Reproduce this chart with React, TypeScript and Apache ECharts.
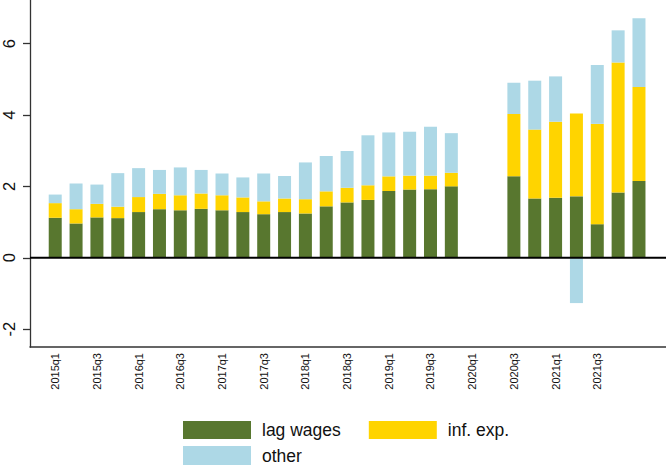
import React, { useEffect, useRef } from "react";
import * as echarts from "echarts";

const categories = [
  "2015q1", "2015q2", "2015q3", "2015q4",
  "2016q1", "2016q2", "2016q3", "2016q4",
  "2017q1", "2017q2", "2017q3", "2017q4",
  "2018q1", "2018q2", "2018q3", "2018q4",
  "2019q1", "2019q2", "2019q3", "2019q4",
  "2020q1", "2020q2", "2020q3", "2020q4",
  "2021q1", "2021q2", "2021q3", "2021q4",
  "2022q1",
];

const tickLabels = [
  "2015q1", "2015q3", "2016q1", "2016q3", "2017q1", "2017q3", "2018q1",
  "2018q3", "2019q1", "2019q3", "2020q1", "2020q3", "2021q1", "2021q3",
];

const yTickValues = [-2, 0, 2, 4, 6];

const lagWages = [
  1.12, 0.96, 1.13, 1.11, 1.28, 1.36, 1.33, 1.37, 1.33, 1.28,
  1.22, 1.28, 1.24, 1.44, 1.55, 1.62, 1.87, 1.91, 1.92, 2.0,
  null, null, 2.28, 1.66, 1.68, 1.72, 0.94, 1.83, 2.15,
];

const infExp = [
  0.41, 0.4, 0.38, 0.32, 0.42, 0.43, 0.42, 0.43, 0.42, 0.41,
  0.36, 0.38, 0.4, 0.42, 0.41, 0.41, 0.41, 0.39, 0.38, 0.38,
  null, null, 1.75, 1.93, 2.13, 2.32, 2.81, 3.64, 2.63,
];

const other = [
  0.24, 0.72, 0.54, 0.94, 0.81, 0.67, 0.78, 0.66, 0.61, 0.56,
  0.78, 0.63, 1.03, 0.99, 1.03, 1.4, 1.23, 1.23, 1.37, 1.11,
  null, null, 0.87, 1.37, 1.27, -1.27, 1.65, 0.9, 1.93,
];

const zeroLine = [
  [0, 0],
  [1, 0],
];

const FONT = "'Liberation Sans', Arial, Helvetica, sans-serif";
const GREEN = "#58772f";
const YELLOW = "#ffd400";
const BLUE = "#add8e6";
const Y_MIN = -2.5;
const Y_MAX = 7.22;

export default function App() {
  const ref = useRef<HTMLDivElement>(null);

  useEffect(() => {
    document.body.style.margin = "0";
    if (!ref.current) return;
    const chart = echarts.init(ref.current, undefined, { renderer: "svg" });
    const legendText = {
      fontFamily: FONT,
      fontSize: 17.5,
      color: "#111",
      padding: [0, 0, 0, 6],
    };
    const option: any = {
      animation: false,
      backgroundColor: "#ffffff",
      grid: [
        { left: 29, right: 0, top: 0, bottom: 118 },
        { left: 44.8, right: 16.6, top: 0, bottom: 118 },
      ],
      legend: [
        {
          left: 183,
          top: 421,
          padding: 0,
          orient: "horizontal",
          icon: "rect",
          itemWidth: 68,
          itemHeight: 18,
          itemGap: 28,
          data: ["lag wages", "inf. exp."],
          textStyle: legendText,
        },
        {
          left: 183,
          top: 446,
          padding: 0,
          orient: "horizontal",
          icon: "rect",
          itemWidth: 68,
          itemHeight: 19,
          data: ["other"],
          textStyle: legendText,
        },
      ],
      xAxis: [
        {
          gridIndex: 0,
          type: "value",
          min: 0,
          max: 1,
          axisLine: { onZero: false, lineStyle: { color: "#333", width: 1.5 } },
          axisTick: { show: false },
          axisLabel: { show: false },
          splitLine: { show: false },
        },
        {
          gridIndex: 1,
          type: "category",
          data: categories,
          boundaryGap: true,
          axisLine: { show: false },
          axisTick: { show: false },
          splitLine: { show: false },
          axisLabel: {
            interval: 0,
            rotate: 90,
            margin: 6,
            fontFamily: FONT,
            fontSize: 11,
            color: "#111",
            formatter: (v: string) => (tickLabels.includes(v) ? v : ""),
          },
        },
      ],
      yAxis: [
        {
          gridIndex: 0,
          type: "value",
          min: Y_MIN,
          max: Y_MAX,
          axisLine: { show: true, lineStyle: { color: "#333", width: 1.3 } },
          axisTick: {
            show: true,
            length: 7,
            customValues: yTickValues,
            lineStyle: { color: "#333", width: 1.3 },
          },
          axisLabel: {
            customValues: yTickValues,
            rotate: 90,
            margin: 13,
            fontFamily: FONT,
            fontSize: 16.5,
            color: "#111",
          },
          splitLine: { show: false },
        },
        {
          gridIndex: 1,
          type: "value",
          min: Y_MIN,
          max: Y_MAX,
          show: false,
          splitLine: { show: false },
        },
      ],
      series: [
        {
          name: "lag wages",
          type: "bar",
          stack: "total",
          xAxisIndex: 1,
          yAxisIndex: 1,
          barWidth: 13,
          itemStyle: { color: GREEN },
          data: lagWages,
        },
        {
          name: "inf. exp.",
          type: "bar",
          stack: "total",
          xAxisIndex: 1,
          yAxisIndex: 1,
          barWidth: 13,
          itemStyle: { color: YELLOW },
          data: infExp,
        },
        {
          name: "other",
          type: "bar",
          stack: "total",
          xAxisIndex: 1,
          yAxisIndex: 1,
          barWidth: 13,
          itemStyle: { color: BLUE },
          data: other,
        },
        {
          name: "zero",
          type: "line",
          xAxisIndex: 0,
          yAxisIndex: 0,
          data: zeroLine,
          symbol: "none",
          silent: true,
          z: 10,
          lineStyle: { color: "#000", width: 2 },
        },
      ],
    };
    chart.setOption(option);
    return () => chart.dispose();
  }, []);

  return <div ref={ref} style={{ width: 666, height: 465 }} />;
}
